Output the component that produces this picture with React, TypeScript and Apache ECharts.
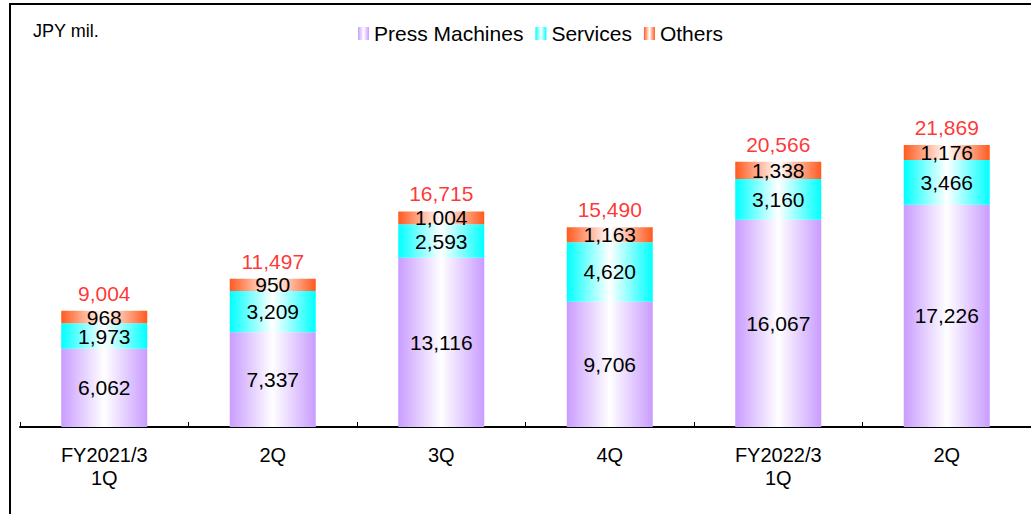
import React, { useEffect, useRef } from "react";
import * as echarts from "echarts";

const categories = ["FY2021/3\n1Q", "2Q", "3Q", "4Q", "FY2022/3\n1Q", "2Q"];
const pressMachines = [6062, 7337, 13116, 9706, 16067, 17226];
const services = [1973, 3209, 2593, 4620, 3160, 3466];
const others = [968, 950, 1004, 1163, 1338, 1176];
const totals = [9004, 11497, 16715, 15490, 20566, 21869];

const FONT = "'Liberation Sans', Arial, sans-serif";

function grad(edge: string) {
  return new echarts.graphic.LinearGradient(0, 0, 1, 0, [
    { offset: 0, color: edge },
    { offset: 0.5, color: "#ffffff" },
    { offset: 1, color: edge },
  ]);
}

const fmt = (v: number) => v.toLocaleString("en-US");

export default function App() {
  const ref = useRef<HTMLDivElement>(null);
  useEffect(() => {
    if (!ref.current) return;
    const chart = echarts.init(ref.current, undefined, { renderer: "svg" });
    const segLabel = {
      show: true,
      position: "inside",
      color: "#000",
      fontSize: 21,
      fontFamily: FONT,
      formatter: (p: any) => fmt(p.value),
    };
    chart.setOption({
      animation: false,
      backgroundColor: "#fff",
      graphic: [
        {
          type: "rect",
          shape: { x: 10, y: 4, width: 1040, height: 530 },
          style: { fill: "none", stroke: "#000", lineWidth: 2 },
          silent: true,
          z: 100,
        },
        {
          type: "text",
          x: 33,
          y: 22,
          style: { text: "JPY mil.", fontSize: 18, fontFamily: FONT, fill: "#000" },
        },
      ],
      legend: {
        data: ["Press Machines", "Services", "Others"],
        top: 18,
        left: 353,
        icon: "rect",
        itemWidth: 11,
        itemHeight: 13,
        itemGap: 12,
        textStyle: { fontSize: 21, fontFamily: FONT, color: "#000" },
      },
      grid: { left: 20, right: -9, top: 104.5, bottom: 87, containLabel: false },
      xAxis: {
        type: "category",
        data: categories,
        axisLine: { lineStyle: { color: "#000", width: 2 } },
        axisTick: { show: true, inside: true, length: 5, lineStyle: { color: "#000", width: 1 } },
        axisLabel: {
          color: "#000",
          fontSize: 20,
          fontFamily: FONT,
          margin: 16,
          lineHeight: 23,
        },
      },
      yAxis: {
        type: "value",
        min: 0,
        max: 25000,
        show: false,
        splitLine: { show: false },
      },
      series: [
        {
          name: "Press Machines",
          type: "bar",
          stack: "a",
          barWidth: 86,
          data: pressMachines,
          itemStyle: { color: grad("#c99cff") },
          label: segLabel,
        },
        {
          name: "Services",
          type: "bar",
          stack: "a",
          data: services,
          itemStyle: { color: grad("#00ffff") },
          label: segLabel,
        },
        {
          name: "Others",
          type: "bar",
          stack: "a",
          data: others,
          itemStyle: { color: grad("#ff5a1e") },
          label: segLabel,
        },
        {
          name: "Total",
          type: "scatter",
          data: totals,
          symbolSize: 0,
          itemStyle: { color: "transparent" },
          label: {
            show: true,
            position: "top",
            distance: 7,
            color: "#ff0000",
            fontSize: 21,
            fontFamily: FONT,
            formatter: (p: any) => fmt(p.value),
          },
          z: 10,
        },
      ],
    });
    return () => chart.dispose();
  }, []);
  return (
    <div
      ref={ref}
      style={{ position: "fixed", left: 0, top: 0, width: 1031, height: 514 }}
    />
  );
}
